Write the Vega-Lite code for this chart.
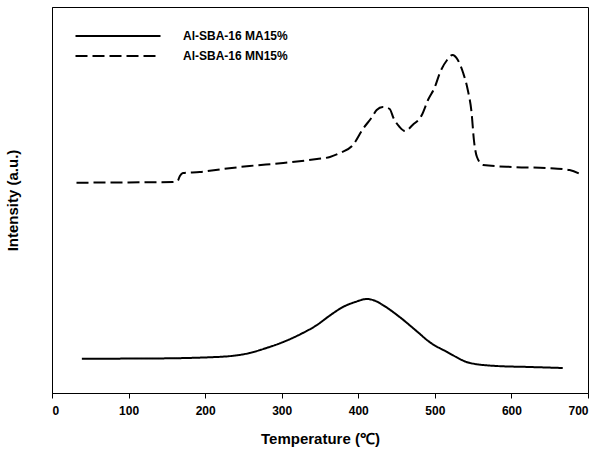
{
  "$schema": "https://vega.github.io/schema/vega-lite/v6.json",
  "width": 536,
  "height": 386,
  "autosize": "none",
  "padding": {"left": 52, "top": 7, "right": 13, "bottom": 68},
  "background": "white",
  "config": {
    "view": {"stroke": "#000", "strokeWidth": 1},
    "font": "Liberation Sans"
  },
  "datasets": {
    "pts": [
      {"s": "Al-SBA-16 MA15%", "t": 39, "v": 34.3},
      {"s": "Al-SBA-16 MA15%", "t": 128, "v": 34.5},
      {"s": "Al-SBA-16 MA15%", "t": 215, "v": 36},
      {"s": "Al-SBA-16 MA15%", "t": 258, "v": 40},
      {"s": "Al-SBA-16 MA15%", "t": 280, "v": 45},
      {"s": "Al-SBA-16 MA15%", "t": 302, "v": 51},
      {"s": "Al-SBA-16 MA15%", "t": 325, "v": 59},
      {"s": "Al-SBA-16 MA15%", "t": 346, "v": 68},
      {"s": "Al-SBA-16 MA15%", "t": 362, "v": 77},
      {"s": "Al-SBA-16 MA15%", "t": 380, "v": 86},
      {"s": "Al-SBA-16 MA15%", "t": 396, "v": 91},
      {"s": "Al-SBA-16 MA15%", "t": 411, "v": 94},
      {"s": "Al-SBA-16 MA15%", "t": 421, "v": 92.5},
      {"s": "Al-SBA-16 MA15%", "t": 432, "v": 88},
      {"s": "Al-SBA-16 MA15%", "t": 454, "v": 76},
      {"s": "Al-SBA-16 MA15%", "t": 476, "v": 62},
      {"s": "Al-SBA-16 MA15%", "t": 493, "v": 51},
      {"s": "Al-SBA-16 MA15%", "t": 516, "v": 41},
      {"s": "Al-SBA-16 MA15%", "t": 546, "v": 30},
      {"s": "Al-SBA-16 MA15%", "t": 581, "v": 27},
      {"s": "Al-SBA-16 MA15%", "t": 624, "v": 26},
      {"s": "Al-SBA-16 MA15%", "t": 667, "v": 25},
      {"s": "Al-SBA-16 MN15%", "t": 32, "v": 210.3},
      {"s": "Al-SBA-16 MN15%", "t": 100, "v": 210.6},
      {"s": "Al-SBA-16 MN15%", "t": 158, "v": 211},
      {"s": "Al-SBA-16 MN15%", "t": 164, "v": 212},
      {"s": "Al-SBA-16 MN15%", "t": 167, "v": 217},
      {"s": "Al-SBA-16 MN15%", "t": 171, "v": 220},
      {"s": "Al-SBA-16 MN15%", "t": 193, "v": 221},
      {"s": "Al-SBA-16 MN15%", "t": 223, "v": 224},
      {"s": "Al-SBA-16 MN15%", "t": 258, "v": 227},
      {"s": "Al-SBA-16 MN15%", "t": 302, "v": 230},
      {"s": "Al-SBA-16 MN15%", "t": 346, "v": 234},
      {"s": "Al-SBA-16 MN15%", "t": 363, "v": 236},
      {"s": "Al-SBA-16 MN15%", "t": 376, "v": 240},
      {"s": "Al-SBA-16 MN15%", "t": 393, "v": 248},
      {"s": "Al-SBA-16 MN15%", "t": 406, "v": 264},
      {"s": "Al-SBA-16 MN15%", "t": 418, "v": 276},
      {"s": "Al-SBA-16 MN15%", "t": 424, "v": 283},
      {"s": "Al-SBA-16 MN15%", "t": 432, "v": 286},
      {"s": "Al-SBA-16 MN15%", "t": 441, "v": 284},
      {"s": "Al-SBA-16 MN15%", "t": 446, "v": 275},
      {"s": "Al-SBA-16 MN15%", "t": 454, "v": 266},
      {"s": "Al-SBA-16 MN15%", "t": 461, "v": 262},
      {"s": "Al-SBA-16 MN15%", "t": 471, "v": 268},
      {"s": "Al-SBA-16 MN15%", "t": 483, "v": 278},
      {"s": "Al-SBA-16 MN15%", "t": 491, "v": 293},
      {"s": "Al-SBA-16 MN15%", "t": 500, "v": 306},
      {"s": "Al-SBA-16 MN15%", "t": 507, "v": 321},
      {"s": "Al-SBA-16 MN15%", "t": 516, "v": 333},
      {"s": "Al-SBA-16 MN15%", "t": 523, "v": 338},
      {"s": "Al-SBA-16 MN15%", "t": 530, "v": 333},
      {"s": "Al-SBA-16 MN15%", "t": 537, "v": 320},
      {"s": "Al-SBA-16 MN15%", "t": 543, "v": 303},
      {"s": "Al-SBA-16 MN15%", "t": 548, "v": 280},
      {"s": "Al-SBA-16 MN15%", "t": 551, "v": 253},
      {"s": "Al-SBA-16 MN15%", "t": 555, "v": 236},
      {"s": "Al-SBA-16 MN15%", "t": 563, "v": 228},
      {"s": "Al-SBA-16 MN15%", "t": 602, "v": 226},
      {"s": "Al-SBA-16 MN15%", "t": 646, "v": 225},
      {"s": "Al-SBA-16 MN15%", "t": 676, "v": 223},
      {"s": "Al-SBA-16 MN15%", "t": 692, "v": 218}
    ]
  },
  "data": {"name": "pts"},
  "mark": {"type": "line", "color": "#000", "strokeWidth": 2, "interpolate": "monotone"},
  "encoding": {
    "x": {
      "field": "t", "type": "quantitative",
      "scale": {"domain": [0, 700], "nice": false},
      "axis": {
        "title": "Temperature (℃)",
        "values": [0, 100, 200, 300, 400, 500, 600, 700],
        "grid": false,
        "domainColor": "#000",
        "tickColor": "#000",
        "tickSize": 5,
        "labelFont": "Liberation Sans",
        "labelFontWeight": "bold",
        "labelFontSize": 12,
        "labelColor": "#000",
        "labelPadding": 7,
        "titleFont": "Liberation Sans",
        "titleFontWeight": "bold",
        "titleFontSize": 15,
        "titleColor": "#000",
        "titlePadding": 15
      }
    },
    "y": {
      "field": "v", "type": "quantitative",
      "scale": {"domain": [0, 386], "nice": false},
      "axis": {
        "title": "Intensity (a.u.)",
        "grid": false,
        "labels": false,
        "ticks": false,
        "domainColor": "#000",
        "titleFont": "Liberation Sans",
        "titleFontWeight": "bold",
        "titleFontSize": 15,
        "titleColor": "#000",
        "titlePadding": 32
      }
    },
    "strokeDash": {
      "field": "s", "type": "nominal",
      "scale": {"domain": ["Al-SBA-16 MA15%", "Al-SBA-16 MN15%"], "range": [[1, 0], [12, 5]]},
      "legend": {
        "title": null,
        "orient": "none",
        "legendX": 55,
        "legendY": 18,
        "symbolType": "M-4.25,0H4.25",
        "symbolSize": 400,
        "symbolStrokeWidth": 2,
        "symbolStrokeColor": "#000",
        "symbolFillColor": "transparent",
        "labelFont": "Liberation Sans",
        "labelFontWeight": "bold",
        "labelFontSize": 12,
        "labelColor": "#000",
        "labelOffset": 54,
        "rowPadding": 3
      }
    }
  }
}
